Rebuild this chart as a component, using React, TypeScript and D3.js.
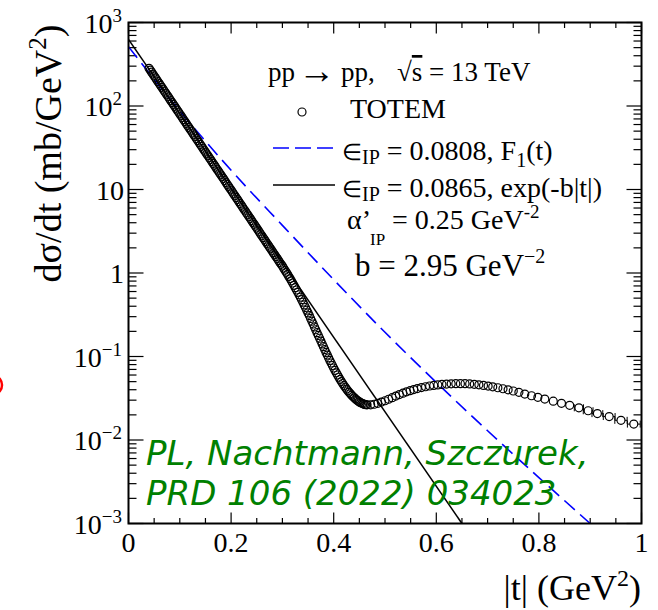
import React from "react";
import * as d3 from "d3";

// TOTEM pp elastic scattering, sqrt(s) = 13 TeV: [|t| (GeV^2), dsigma/dt (mb/GeV^2)]
const totemData: [number, number][] = [
  [0.0400, 282.6], [0.0425, 268.2], [0.0450, 254.5], [0.0475, 241.5], [0.0500, 229.1],
  [0.0525, 217.4], [0.0550, 206.3], [0.0575, 195.8], [0.0600, 185.8], [0.0625, 176.3],
  [0.0650, 167.3], [0.0675, 158.7], [0.0700, 150.6], [0.0725, 142.9], [0.0750, 135.6],
  [0.0775, 128.7], [0.0800, 122.1], [0.0825, 115.9], [0.0850, 110.0], [0.0875, 104.4],
  [0.0900, 99.0], [0.0925, 93.9], [0.0950, 89.2], [0.0975, 84.6], [0.1000, 80.3],
  [0.1025, 76.2], [0.1050, 72.3], [0.1075, 68.6], [0.1100, 65.1], [0.1125, 61.8],
  [0.1150, 58.6], [0.1175, 55.6], [0.1200, 52.8], [0.1225, 50.1], [0.1250, 47.5],
  [0.1275, 45.1], [0.1300, 42.8], [0.1325, 40.6], [0.1350, 38.5], [0.1375, 36.6],
  [0.1400, 34.7], [0.1425, 32.9], [0.1450, 31.2], [0.1475, 29.6], [0.1500, 28.1],
  [0.1525, 26.7], [0.1550, 25.3], [0.1575, 24.0], [0.1600, 22.8], [0.1625, 21.6],
  [0.1650, 20.5], [0.1675, 19.5], [0.1700, 18.5], [0.1725, 17.5], [0.1750, 16.6],
  [0.1775, 15.8], [0.1800, 15.0], [0.1825, 14.2], [0.1850, 13.5], [0.1875, 12.8],
  [0.1900, 12.1], [0.1925, 11.5], [0.1950, 10.9], [0.1975, 10.35], [0.2000, 9.84],
  [0.2025, 9.34], [0.2050, 8.86], [0.2075, 8.41], [0.2100, 7.98], [0.2125, 7.57],
  [0.2150, 7.18], [0.2175, 6.82], [0.2200, 6.47], [0.2225, 6.14], [0.2250, 5.82],
  [0.2275, 5.53], [0.2300, 5.24], [0.2325, 4.98], [0.2350, 4.72], [0.2375, 4.48],
  [0.2400, 4.25], [0.2425, 4.03], [0.2450, 3.83], [0.2475, 3.63], [0.2500, 3.45],
  [0.2525, 3.27], [0.2550, 3.10], [0.2575, 2.94], [0.2600, 2.79], [0.2625, 2.65],
  [0.2650, 2.52], [0.2675, 2.39], [0.2700, 2.26], [0.2725, 2.15], [0.2750, 2.04],
  [0.2775, 1.94], [0.2800, 1.84], [0.2825, 1.74], [0.2850, 1.65], [0.2875, 1.57],
  [0.2900, 1.49], [0.2925, 1.41], [0.2950, 1.34], [0.2975, 1.27], [0.3000, 1.21],
  [0.3025, 1.143], [0.3050, 1.079], [0.3075, 1.020], [0.3100, 0.964], [0.3125, 0.909],
  [0.3150, 0.857], [0.3175, 0.807], [0.3200, 0.759], [0.3225, 0.712], [0.3250, 0.668],
  [0.3275, 0.626], [0.3300, 0.587], [0.3325, 0.549], [0.3350, 0.513], [0.3375, 0.479],
  [0.3400, 0.447], [0.3425, 0.415], [0.3450, 0.386], [0.3475, 0.359], [0.3500, 0.333],
  [0.3525, 0.309], [0.3550, 0.286], [0.3575, 0.265], [0.3600, 0.245], [0.3625, 0.226],
  [0.3650, 0.209], [0.3675, 0.193], [0.3700, 0.179], [0.3725, 0.1655], [0.3750, 0.153],
  [0.3775, 0.1416], [0.3800, 0.131], [0.3825, 0.1211], [0.3850, 0.112], [0.3875, 0.1039],
  [0.3900, 0.0964], [0.3925, 0.0898], [0.3950, 0.0836], [0.3975, 0.0780], [0.4000, 0.0728],
  [0.4025, 0.0682], [0.4050, 0.0638], [0.4075, 0.0600], [0.4100, 0.0564], [0.4125, 0.0532],
  [0.4150, 0.0501], [0.4175, 0.0475], [0.4200, 0.0450], [0.4225, 0.0428], [0.4250, 0.0407],
  [0.4275, 0.0389], [0.4300, 0.0372], [0.4325, 0.0358], [0.4350, 0.0344], [0.4375, 0.0332],
  [0.4400, 0.0320], [0.4425, 0.0310], [0.4450, 0.0301], [0.4475, 0.0293], [0.4500, 0.0286],
  [0.4525, 0.0280], [0.4550, 0.0275], [0.4575, 0.0271], [0.4600, 0.0267], [0.4625, 0.0265],
  [0.4650, 0.0264], [0.4720, 0.02636], [0.4790, 0.02679], [0.4860, 0.02748], [0.4930, 0.02844],
  [0.5000, 0.02951], [0.5070, 0.03076], [0.5140, 0.03214], [0.5210, 0.03357], [0.5280, 0.03499],
  [0.5350, 0.03639], [0.5420, 0.03776], [0.5490, 0.03899], [0.5560, 0.04018], [0.5630, 0.04130],
  [0.5710, 0.04246], [0.5790, 0.04345], [0.5870, 0.04436], [0.5950, 0.04508], [0.6030, 0.04571],
  [0.6110, 0.04624], [0.6200, 0.04677], [0.6290, 0.04710], [0.6380, 0.04732], [0.6470, 0.04732],
  [0.6560, 0.04721], [0.6650, 0.04688], [0.6740, 0.04645], [0.6830, 0.04581], [0.6920, 0.04508],
  [0.7010, 0.04426], [0.7100, 0.04335], [0.7200, 0.04227], [0.7300, 0.04111], [0.7400, 0.03990],
  [0.7500, 0.03864], [0.7610, 0.0372], [0.7725, 0.0355], [0.7856, 0.0339], [0.7980, 0.0324],
  [0.8115, 0.0309], [0.8280, 0.0292], [0.8440, 0.0275], [0.8600, 0.0260], [0.8780, 0.0243],
  [0.8960, 0.0224], [0.9140, 0.0207], [0.9370, 0.0191], [0.9600, 0.0172], [0.9850, 0.0155],
];

// |t|-bin half widths of the last TOTEM points (horizontal error bars)
const totemTailHalfWidth = [0.0085, 0.009, 0.0095, 0.0105, 0.0115, 0.012, 0.0125];

// Model: eps_IP = 0.0865, exp(-b|t|)
const expModelT = [0.0, 0.65];
const expModelSigma = [628, 0.001];

// Model: eps_IP = 0.0808, F1(t)
const f1ModelT = [0.0, 0.1, 0.2, 0.3, 0.4, 0.5, 0.6, 0.7, 0.8, 0.9, 1.0];
const f1ModelSigma = [513, 87.1, 17.0, 3.72, 0.832, 0.195, 0.049, 0.0129, 0.00355, 0.001, 0.00029];

const xTicks = [0, 0.2, 0.4, 0.6, 0.8, 1];
const xTickLabels = ["0", "0.2", "0.4", "0.6", "0.8", "1"];
const yDecades = [-3, -2, -1, 0, 1, 2, 3];
const yTickLabels = [
  { base: "10", exp: "\u22123" },
  { base: "10", exp: "\u22122" },
  { base: "10", exp: "\u22121" },
  { base: "1", exp: "" },
  { base: "10", exp: "" },
  { base: "10", exp: "2" },
  { base: "10", exp: "3" },
];

const W = 658;
const H = 610;
const X0 = 128.5;
const X1 = 641.5;
const Y0 = 22.5;
const Y1 = 523.5;
const SERIF = "'Liberation Serif', 'Times New Roman', serif";
const MARKER_R = 4;

export default function App() {
  const x = d3.scaleLinear().domain([0, 1]).range([X0, X1]);
  const y = d3.scaleLog().domain([1e-3, 1e3]).range([Y1, Y0]);

  const expPath = d3
    .line<[number, number]>()
    .x((d) => x(d[0]))
    .y((d) => y(d[1]))(expModelT.map((t, i) => [t, expModelSigma[i]] as [number, number]));
  const f1Path = d3
    .line<[number, number]>()
    .x((d) => x(d[0]))
    .y((d) => y(d[1]))
    .curve(d3.curveMonotoneX)(f1ModelT.map((t, i) => [t, f1ModelSigma[i]] as [number, number]));

  const xMinor = d3.range(0, 21).map((i) => i * 0.05);
  const yMinor: number[] = [];
  for (let k = -3; k < 3; k++) for (let m = 2; m <= 9; m++) yMinor.push(m * Math.pow(10, k));

  const tailStart = totemData.length - totemTailHalfWidth.length;

  return (
    <div style={{ position: "absolute", left: 0, top: 0 }}>
      <svg width={W} height={H} viewBox={`0 0 ${W} ${H}`} style={{ display: "block", background: "#fff" }}>
        <defs>
          <clipPath id="plotArea">
            <rect x={X0} y={Y0} width={X1 - X0} height={Y1 - Y0} />
          </clipPath>
        </defs>
        <rect x={0} y={0} width={W} height={H} fill="#fff" />

        {/* ticks */}
        <g stroke="#000" strokeWidth={1.2}>
          {xMinor.map((t, i) => {
            const major = i % 4 === 0;
            const len = major ? 11 : 5.5;
            return (
              <g key={"xt" + i}>
                <line x1={x(t)} x2={x(t)} y1={Y1} y2={Y1 - len} />
                <line x1={x(t)} x2={x(t)} y1={Y0} y2={Y0 + len} />
              </g>
            );
          })}
          {yDecades.map((k) => {
            const v = Math.pow(10, k);
            return (
              <g key={"yt" + k}>
                <line x1={X0} x2={X0 + 15} y1={y(v)} y2={y(v)} />
                <line x1={X1} x2={X1 - 15} y1={y(v)} y2={y(v)} />
              </g>
            );
          })}
          {yMinor.map((v, i) => (
            <g key={"ym" + i}>
              <line x1={X0} x2={X0 + 8} y1={y(v)} y2={y(v)} />
              <line x1={X1} x2={X1 - 8} y1={y(v)} y2={y(v)} />
            </g>
          ))}
        </g>

        {/* curves and data */}
        <g clipPath="url(#plotArea)">
          <path d={f1Path || ""} fill="none" stroke="#0000ff" strokeWidth={1.6} strokeDasharray="14,7" />
          <path d={expPath || ""} fill="none" stroke="#000" strokeWidth={1.5} />
          {totemData.map(([t, s], i) => (
            <circle key={"p" + i} cx={x(t)} cy={y(s)} r={MARKER_R} fill="none" stroke="#000" strokeWidth={1.2} />
          ))}
          <g stroke="#000" strokeWidth={1}>
            {totemTailHalfWidth.map((hw, j) => {
              const [t, s] = totemData[tailStart + j];
              const cx = x(t);
              const cy = y(s);
              const dx = x(t + hw) - cx;
              if (dx <= MARKER_R + 0.5) return null;
              return (
                <g key={"eb" + j}>
                  <line x1={cx - dx} x2={cx - MARKER_R} y1={cy} y2={cy} />
                  <line x1={cx + MARKER_R} x2={cx + dx} y1={cy} y2={cy} />
                  <line x1={cx - dx} x2={cx - dx} y1={cy - 3.5} y2={cy + 3.5} />
                  <line x1={cx + dx} x2={cx + dx} y1={cy - 3.5} y2={cy + 3.5} />
                </g>
              );
            })}
          </g>
        </g>

        {/* frame */}
        <rect x={X0} y={Y0} width={X1 - X0} height={Y1 - Y0} fill="none" stroke="#000" strokeWidth={2} />

        {/* tick labels */}
        <g fontFamily={SERIF} fontSize={28} fill="#000">
          {xTicks.map((t, i) => (
            <text key={"xl" + i} x={x(t)} y={552} textAnchor="middle">
              {xTickLabels[i]}
            </text>
          ))}
          {yDecades.map((k, i) => (
            <text key={"yl" + i} x={yTickLabels[i].exp ? 122 : 124} y={y(Math.pow(10, k)) + 10} textAnchor="end">
              {yTickLabels[i].base}
              {yTickLabels[i].exp && (
                <tspan dy={-11} fontSize={19}>
                  {yTickLabels[i].exp}
                </tspan>
              )}
            </text>
          ))}
        </g>

        {/* axis titles */}
        <text x={641} y={600} textAnchor="end" fontFamily={SERIF} fontSize={36}>
          |t| (GeV
          <tspan dy={-14} fontSize={24}>2</tspan>
          <tspan dy={14}>)</tspan>
        </text>
        <text transform="translate(61,153.5) rotate(-90)" textAnchor="middle" fontFamily={SERIF} fontSize={38}>
          dσ/dt (mb/GeV
          <tspan dy={-15} fontSize={25}>2</tspan>
          <tspan dy={15}>)</tspan>
        </text>

        {/* legend */}
        <g fontFamily={SERIF} fontSize={28} fill="#000">
          <text x={268} y={81} fontSize={27}>pp</text>
          <text x={298} y={83} fontSize={37}>→</text>
          <text x={341} y={81} fontSize={27}>pp,</text>
          <text x={397} y={81} fontSize={27}>
            √<tspan style={{ textDecoration: "overline" }}>s</tspan> = 13 TeV
          </text>

          <circle cx={302} cy={112} r={MARKER_R} fill="none" stroke="#000" strokeWidth={1.2} />
          <text x={350} y={118}>TOTEM</text>

          <line x1={273} x2={335} y1={148} y2={148} stroke="#0000ff" strokeWidth={1.6} strokeDasharray="16,6" />
          <text x={342} y={160}>
            <tspan fontSize={23}>∈</tspan>
            <tspan dy={4} fontSize={20}>IP</tspan>
            <tspan dy={-4}> = 0.0808, F</tspan>
            <tspan dy={7} fontSize={20}>1</tspan>
            <tspan dy={-7}>(t)</tspan>
          </text>

          <line x1={273} x2={335} y1={185} y2={185} stroke="#000" strokeWidth={1.5} />
          <text x={342} y={197}>
            <tspan fontSize={23}>∈</tspan>
            <tspan dy={4} fontSize={20}>IP</tspan>
            <tspan dy={-4}> = 0.0865, exp(-b|t|)</tspan>
          </text>

          <text x={347} y={229}>α’</text>
          <text x={370} y={245} fontSize={17}>IP</text>
          <text x={392} y={229}>
            = 0.25 GeV<tspan dy={-11} fontSize={19}>-2</tspan>
          </text>

          <text x={355} y={276} fontSize={31}>
            b = 2.95 GeV<tspan dy={-13} fontSize={20}>−2</tspan>
          </text>
        </g>

        {/* publication reference */}
        <g fontFamily="'DejaVu Sans', sans-serif" fontStyle="italic" fontSize={34} fill="#008000">
          <text x={146} y={465}>PL, Nachtmann, Szczurek,</text>
          <text x={146} y={505}>PRD 106 (2022) 034023</text>
        </g>

        {/* clipped marker at the left edge */}
        <ellipse cx={-5} cy={385} rx={7} ry={8.5} fill="none" stroke="#ff0000" strokeWidth={2.5} />
      </svg>
    </div>
  );
}
